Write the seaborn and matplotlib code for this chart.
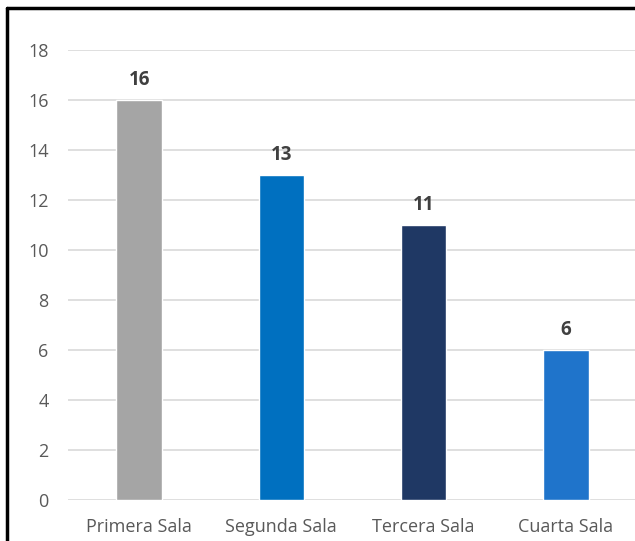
import matplotlib
matplotlib.use('Agg')
import matplotlib.pyplot as plt
import seaborn as sns
import pandas as pd
from matplotlib.lines import Line2D

# Chart data
salas = ['Primera Sala', 'Segunda Sala', 'Tercera Sala', 'Cuarta Sala']
valores = [16, 13, 11, 6]
colores = ['#A5A5A5', '#0070C0', '#1F3864', '#1F74CB']

df = pd.DataFrame({'Sala': salas, 'Valor': valores})

sns.set_style('white')
plt.rcParams['font.family'] = ['Open Sans', 'DejaVu Sans']

fig = plt.figure(figsize=(6.35, 5.41), dpi=100)
ax = fig.add_axes([68 / 635, 1 - 500 / 541, 1.003 - 68 / 635, 450 / 541])

sns.barplot(data=df, x='Sala', y='Valor', hue='Sala', palette=colores,
            width=0.32, legend=False, ax=ax, saturation=1)

ax.set_ylim(0, 18)
ax.set_yticks(range(0, 19, 2))
ax.set_xlim(-0.5, 3.5)
ax.yaxis.grid(True, color='#D9D9D9', linewidth=1.2)
ax.set_axisbelow(True)
for s in ax.spines.values():
    s.set_visible(False)
ax.tick_params(axis='y', length=0, pad=14, labelsize=13, labelcolor='#595959')
ax.tick_params(axis='x', length=0, pad=13, labelsize=13, labelcolor='#595959')
ax.set_xlabel('')
ax.set_ylabel('')

# Value labels above bars
for c in ax.containers:
    ax.bar_label(c, padding=7, fontsize=13.5, fontweight='bold', color='#404040')

# Black frame (left and top edges visible)
fig.add_artist(Line2D([7 / 635, 7 / 635], [0, 1 - 8 / 541], color='black', lw=2.5,
                      transform=fig.transFigure))
fig.add_artist(Line2D([7 / 635, 1], [1 - 8 / 541, 1 - 8 / 541], color='black', lw=2.5,
                      transform=fig.transFigure))

fig.savefig('out.png', dpi=100, facecolor='white')
